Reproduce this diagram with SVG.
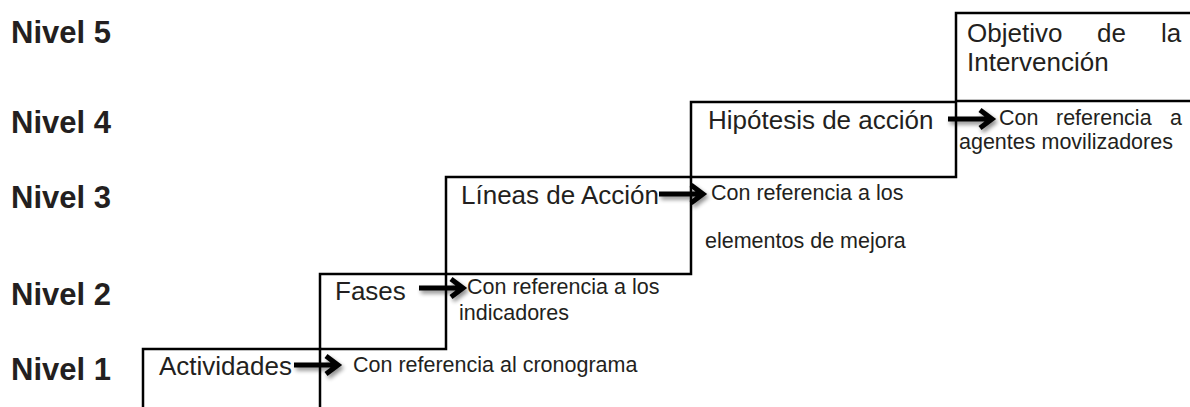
<svg xmlns="http://www.w3.org/2000/svg" width="1190" height="407" viewBox="0 0 1190 407">
<defs>
<style>
.lvl{font-family:"Liberation Sans",Arial,sans-serif;font-weight:bold;font-size:31px;fill:#231f20}
.big{font-family:"Liberation Sans",Arial,sans-serif;font-size:26px;fill:#231f20}
.sm{font-family:"Liberation Sans",Arial,sans-serif;font-size:21.5px;fill:#231f20}
.box{fill:none;stroke:#000;stroke-width:2.5}
.arr{fill:none;stroke:#000;stroke-width:5;stroke-linejoin:miter}
</style>
<filter id="sh" x="-20%" y="-50%" width="140%" height="200%">
<feGaussianBlur in="SourceAlpha" stdDeviation="2"/>
<feOffset dx="2" dy="3" result="b"/>
<feComponentTransfer><feFuncA type="linear" slope="0.45"/></feComponentTransfer>
<feMerge><feMergeNode/><feMergeNode in="SourceGraphic"/></feMerge>
</filter>
<g id="arrow">
<path class="arr" d="M-47,0 H-5 M-15,-9 L-3,0 L-15,9"/>
</g>
</defs>
<rect width="1190" height="407" fill="#fff"/>
<g id="levels">
<text class="lvl" x="11" y="43">Nivel 5</text>
<text class="lvl" x="11" y="133">Nivel 4</text>
<text class="lvl" x="11" y="208">Nivel 3</text>
<text class="lvl" x="11" y="305">Nivel 2</text>
<text class="lvl" x="11" y="380">Nivel 1</text>
</g>
<g id="node1">
<rect class="box" x="143" y="349" width="177" height="70"/>
<text class="big" x="159" y="375">Actividades</text>
<text class="sm" x="353" y="372">Con referencia al cronograma</text>
</g>
<g id="node2">
<rect class="box" x="320" y="274" width="126" height="75"/>
<text class="big" x="335" y="300">Fases</text>
<text class="sm" x="467" y="294">Con referencia a los</text>
<text class="sm" x="459" y="320">indicadores</text>
</g>
<g id="node3">
<rect class="box" x="446" y="177" width="245" height="97"/>
<text class="big" x="461" y="204">Líneas de Acción</text>
<text class="sm" x="711" y="200">Con referencia a los</text>
<text class="sm" x="705" y="248">elementos de mejora</text>
</g>
<g id="node4">
<rect class="box" x="691" y="102" width="265" height="75"/>
<text class="big" x="708" y="129">Hipótesis de acción</text>
<text class="sm" y="125"><tspan x="999">Con</tspan><tspan x="1056">referencia</tspan><tspan x="1170">a</tspan></text>
<text class="sm" x="959" y="149">agentes movilizadores</text>
</g>
<g id="node5">
<rect class="box" x="956" y="13" width="250" height="88"/>
<text class="big" y="42"><tspan x="967">Objetivo</tspan><tspan x="1097">de</tspan><tspan x="1161">la</tspan></text>
<text class="big" x="967" y="71">Intervención</text>
</g>
<g id="connectors" filter="url(#sh)">
<use href="#arrow" x="341" y="365"/>
<use href="#arrow" x="466" y="288"/>
<use href="#arrow" x="706" y="194"/>
<use href="#arrow" x="995" y="119"/>
</g>
</svg>
